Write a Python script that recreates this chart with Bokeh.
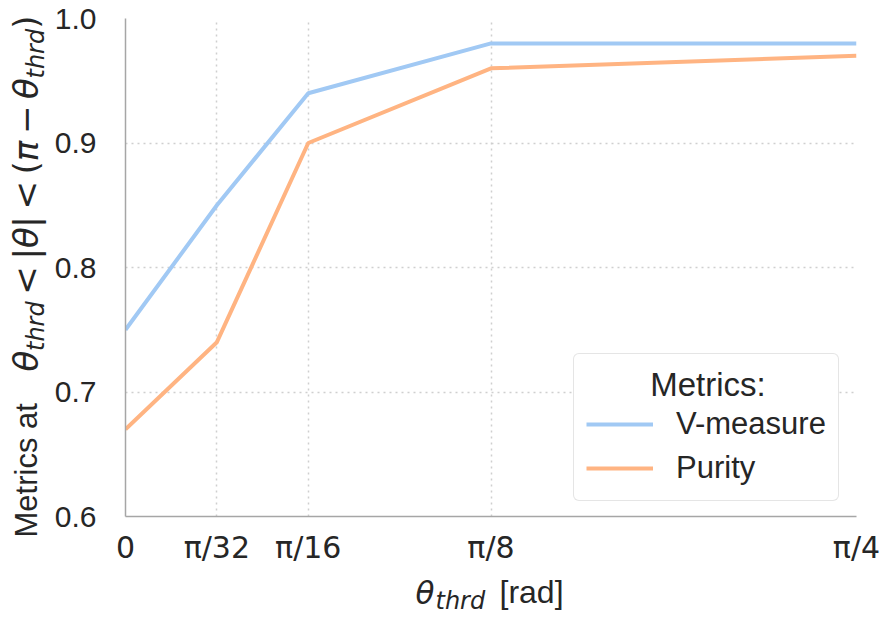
import numpy as np
from bokeh.plotting import figure
from bokeh.layouts import column, row
from bokeh.models import FixedTicker, Label, Legend, LegendItem, Range1d
from bokeh.embed import file_html
from bokeh.resources import INLINE

# ---- data ----
theta_thrd = [0.0, np.pi / 32, np.pi / 16, np.pi / 8, np.pi / 4]
x_tick_labels = ["0", "π/32", "π/16", "π/8", "π/4"]
v_measure = [0.75, 0.85, 0.94, 0.98, 0.98]
purity = [0.67, 0.74, 0.90, 0.96, 0.97]
y_ticks = [0.6, 0.7, 0.8, 0.9, 1.0]
y_tick_labels = ["0.6", "0.7", "0.8", "0.9", "1.0"]
series_names = ["V-measure", "Purity"]
series_colors = ["#a1c9f4", "#ffb482"]
legend_title = "Metrics:"

TEXT = "#262626"
SANS = "Liberation Sans"
MATH = "DejaVu Sans"

LEFT_W = 50
MAIN_W, MAIN_H = 830, 567
BOTTOM_H = 49
TOTAL_H = MAIN_H + BOTTOM_H
FRAME_LEFT = 125          # page-x of the plot frame's left edge
BASE_SHIFT = 0.345        # em offset of Bokeh's alphabetic anchor vs. glyph baseline

# ---------------- main plot ----------------
p = figure(width=MAIN_W, height=MAIN_H, output_backend="svg", toolbar_location=None,
           x_range=Range1d(0, np.pi / 4), y_range=Range1d(0.6, 1.0),
           min_border_left=FRAME_LEFT - LEFT_W, min_border_right=24,
           min_border_top=18, min_border_bottom=50)
p.outline_line_color = None
p.background_fill_color = "white"
p.border_fill_color = "white"

for ax in (p.xaxis[0], p.yaxis[0]):
    ax.axis_line_color = "#a6a6a6"
    ax.axis_line_width = 1.5
    ax.major_tick_line_color = None
    ax.minor_tick_line_color = None
    ax.major_label_text_color = TEXT

p.xaxis.ticker = FixedTicker(ticks=theta_thrd)
p.xaxis.major_label_overrides = {t: l for t, l in zip(theta_thrd, x_tick_labels)}
p.xaxis.major_label_text_font = MATH
p.xaxis.major_label_text_font_size = "30px"
p.xaxis.major_label_standoff = 7

p.yaxis.ticker = FixedTicker(ticks=y_ticks)
p.yaxis.major_label_overrides = {t: l for t, l in zip(y_ticks, y_tick_labels)}
p.yaxis.major_label_text_font = SANS
p.yaxis.major_label_text_font_size = "30px"
p.yaxis.major_label_standoff = 23

p.xgrid.ticker = FixedTicker(ticks=theta_thrd)
p.ygrid.ticker = FixedTicker(ticks=y_ticks)
for g in (p.xgrid[0], p.ygrid[0]):
    g.grid_line_color = "#cfcfcf"
    g.grid_line_width = 1.5
    g.grid_line_dash = "2 4"

r1 = p.line(theta_thrd, v_measure, line_color=series_colors[0], line_width=4)
r2 = p.line(theta_thrd, purity, line_color=series_colors[1], line_width=4)

legend = Legend(items=[LegendItem(label=series_names[0], renderers=[r1]),
                       LegendItem(label=series_names[1], renderers=[r2])],
                location=(448, 15), title="\u00a0" * 7 + legend_title,
                title_text_font=SANS, title_text_font_size="33px",
                title_text_color=TEXT, title_text_font_style="normal",
                label_text_font=SANS, label_text_font_size="31px",
                label_text_color=TEXT, glyph_width=67, glyph_height=40,
                label_height=40, label_standoff=23, spacing=4, padding=12,
                title_standoff=0, border_line_color="#cccccc",
                border_line_width=1.5, background_fill_color="white",
                background_fill_alpha=1.0)
if "border_radius" in Legend.properties():
    legend.border_radius = 6
p.add_layout(legend)


# ---------------- title strips (real text pieces) ----------------
def strip(w, h):
    f = figure(width=w, height=h, output_backend="svg", toolbar_location=None,
               x_range=Range1d(0, 1), y_range=Range1d(0, 1), title=None,
               x_axis_type=None, y_axis_type=None, min_border=0,
               min_border_left=0, min_border_right=0, min_border_top=0,
               min_border_bottom=0)
    f.outline_line_color = None
    f.xgrid.visible = False
    f.ygrid.visible = False
    f.background_fill_color = "white"
    f.border_fill_color = "white"
    return f


def put(fig, text, font, size, style, x, y, angle=0.0):
    fig.add_layout(Label(x=x, y=y, x_units="screen", y_units="screen",
                         angle=angle, text=text, text_font=font,
                         text_font_size=f"{size}px", text_font_style=style,
                         text_color=TEXT, text_align="left",
                         text_baseline="alphabetic"))


# DejaVu Sans advances (em) for the math tokens
ADV = {"θ": .602, "π": .602, "<": .838, "−": .838, "|": .337, "(": .390,
       ")": .390, "t": .392, "h": .634, "r": .411, "d": .635}
REL = {"<", "−"}          # tokens padded like mathtext relations / operators

# y-axis title: plain part, then a chained math part (text, size, style, sub)
ylab = strip(LEFT_W, TOTAL_H)
Y_BASE = 37               # page-x of the glyph baseline
put(ylab, "Metrics at", SANS, 31, "normal", Y_BASE - BASE_SHIFT * 31,
    TOTAL_H - 537, angle=np.pi / 2)
MS, SS = 34, 24
math_tokens = [("θ", MS, "italic", 0), ("thrd", SS, "italic", 7),
               ("<", MS, "normal", 0), ("|", MS, "normal", 0),
               ("θ", MS, "italic", 0), ("|", MS, "normal", 0),
               ("<", MS, "normal", 0), ("(", MS, "normal", 0),
               ("π", MS, "italic", 0), ("−", MS, "normal", 0),
               ("θ", MS, "italic", 0), ("thrd", SS, "italic", 7),
               (")", MS, "normal", 0)]
pos = 371.0               # page-y where the math part starts (reads upward)
for text, size, style, sub in math_tokens:
    pad = 0.2 * 0.974 * size if text in REL else 0.0
    put(ylab, text, MATH, size, style, Y_BASE + sub - BASE_SHIFT * size,
        TOTAL_H - (pos - pad), angle=np.pi / 2)
    pos -= sum(ADV[c] for c in text) * size + 2 * pad

# x-axis title: (text, font, size, style, start page-x, baseline page-y)
xlab = strip(MAIN_W, BOTTOM_H)
x_pieces = [("θ", MATH, 31, "italic", 415, 603),
            ("thrd", MATH, 24, "italic", 435, 609),
            ("[rad]", SANS, 32, "normal", 499, 603)]
for text, font, size, style, start, base in x_pieces:
    put(xlab, text, font, size, style, start - FRAME_LEFT,
        TOTAL_H - base + BASE_SHIFT * size)

layout = row(column(ylab), column(p, xlab, spacing=0), spacing=0)
open("out.html", "w").write(file_html(layout, INLINE))
